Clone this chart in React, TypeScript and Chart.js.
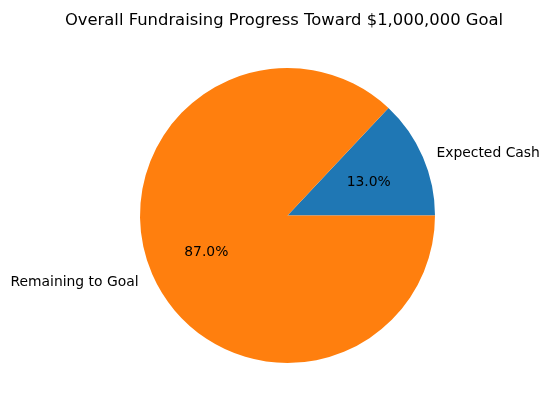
import React, { useEffect, useRef } from "react";
import { Chart, registerables } from "chart.js";

Chart.register(...registerables);

const categories = ["Expected Cash", "Remaining to Goal"];
const values = [13.0, 87.0];
const colors = ["#1f77b4", "#ff7f0e"];
const titleText = "Overall Fundraising Progress Toward $1,000,000 Goal";

const FONT = "'DejaVu Sans', sans-serif";

const labelPlugin = {
  id: "pieLabels",
  afterDraw(chart: any) {
    const ctx = chart.ctx;
    const meta = chart.getDatasetMeta(0);
    const total = values.reduce((a, b) => a + b, 0);
    ctx.save();
    // title
    ctx.fillStyle = "#000";
    ctx.font = `16.4px ${FONT}`;
    ctx.textAlign = "center";
    ctx.textBaseline = "alphabetic";
    ctx.fillText(titleText, 284, 24.5);
    meta.data.forEach((arc: any, i: number) => {
      const { x, y, startAngle, endAngle, outerRadius } = arc.getProps(
        ["x", "y", "startAngle", "endAngle", "outerRadius"],
        true
      );
      const mid = (startAngle + endAngle) / 2;
      const cx = Math.cos(mid);
      const sy = Math.sin(mid);
      ctx.font = `13.9px ${FONT}`;
      ctx.fillStyle = "#000";
      ctx.textBaseline = "alphabetic";
      const off = 5.8;
      const lx = x + cx * outerRadius * 1.1;
      const ly = y + sy * outerRadius * 1.1;
      ctx.textAlign = cx >= 0 ? "left" : "right";
      ctx.fillText(categories[i], lx, ly + off);
      const px = x + cx * outerRadius * 0.6;
      const py = y + sy * outerRadius * 0.6;
      ctx.textAlign = "center";
      ctx.fillText(((values[i] / total) * 100).toFixed(1) + "%", px, py + off);
    });
    ctx.restore();
  },
};

export default function App() {
  const ref = useRef<HTMLCanvasElement>(null);
  useEffect(() => {
    if (!ref.current) return;
    const total = values.reduce((a, b) => a + b, 0);
    const firstDeg = (values[0] / total) * 360;
    const chart = new Chart(ref.current, {
      type: "pie",
      data: {
        labels: categories,
        datasets: [
          {
            data: values,
            backgroundColor: colors,
            borderWidth: 0,
          },
        ],
      },
      options: {
        responsive: false,
        animation: false,
        rotation: 90 - firstDeg,
        layout: { padding: { left: 140, right: 115, top: 68, bottom: 48 } },
        plugins: {
          legend: { display: false },
          title: { display: false },
          tooltip: { enabled: false },
        },
      },
      plugins: [labelPlugin],
    });
    return () => chart.destroy();
  }, []);
  return (
    <div style={{ position: "absolute", left: 0, top: 0, width: 550, height: 411, background: "#fff" }}>
      <canvas ref={ref} width={550} height={411} style={{ width: 550, height: 411 }} />
    </div>
  );
}
